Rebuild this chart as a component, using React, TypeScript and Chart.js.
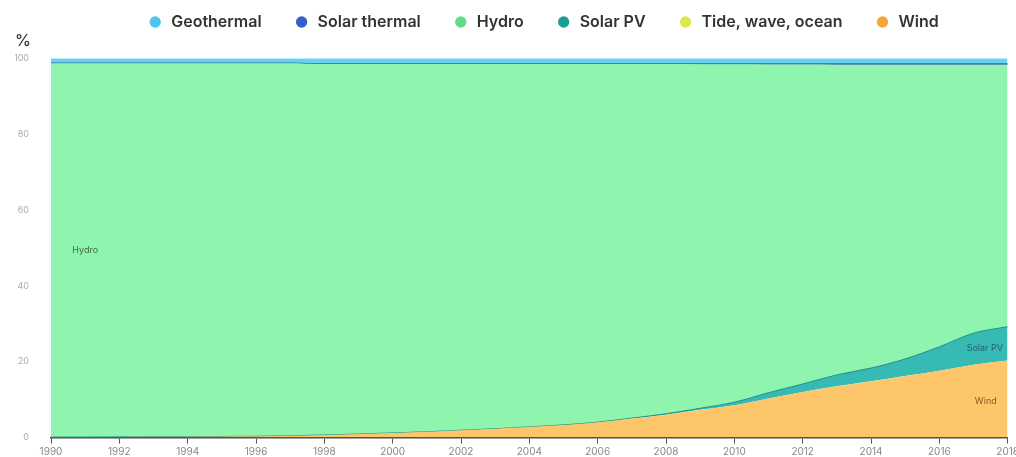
import React, { useEffect, useRef } from "react";
import { Chart, registerables } from "chart.js";

Chart.register(...registerables);

const years = [
  1990, 1991, 1992, 1993, 1994, 1995, 1996, 1997, 1998, 1999, 2000, 2001, 2002, 2003, 2004,
  2005, 2006, 2007, 2008, 2009, 2010, 2011, 2012, 2013, 2014, 2015, 2016, 2017, 2018,
];

const wind = [
  0.1, 0.1, 0.15, 0.2, 0.2, 0.25, 0.3, 0.45, 0.65, 0.9, 1.2, 1.5, 1.9, 2.3, 2.8,
  3.3, 4.0, 5.0, 6.0, 7.3, 8.5, 10.3, 12.0, 13.5, 14.8, 16.2, 17.6, 19.2, 20.3,
];
const tide = [
  0.03, 0.03, 0.03, 0.03, 0.03, 0.03, 0.03, 0.03, 0.03, 0.03, 0.03, 0.03, 0.03, 0.03, 0.03,
  0.03, 0.03, 0.03, 0.03, 0.03, 0.03, 0.03, 0.03, 0.03, 0.03, 0.03, 0.03, 0.03, 0.03,
];
const solarPV = [
  0.01, 0.01, 0.01, 0.01, 0.01, 0.01, 0.01, 0.01, 0.01, 0.01, 0.01, 0.01, 0.01, 0.01, 0.01,
  0.02, 0.05, 0.1, 0.25, 0.4, 0.8, 1.5, 2.1, 3.0, 3.5, 4.5, 6.3, 8.3, 8.9,
];
const hydro = [
  98.54, 98.54, 98.49, 98.44, 98.44, 98.39, 98.34, 98.19, 97.79, 97.54, 97.24, 96.94, 96.54, 96.14, 95.64,
  95.13, 94.4, 93.34, 92.17, 90.69, 89.07, 86.52, 84.19, 81.77, 79.95, 77.55, 74.35, 70.75, 69.05,
];
const solarThermal = [
  0.02, 0.02, 0.02, 0.02, 0.02, 0.02, 0.02, 0.02, 0.02, 0.02, 0.02, 0.02, 0.02, 0.02, 0.02,
  0.02, 0.02, 0.03, 0.05, 0.08, 0.1, 0.15, 0.18, 0.2, 0.22, 0.22, 0.22, 0.22, 0.22,
];
const geothermal = [
  1.3, 1.3, 1.3, 1.3, 1.3, 1.3, 1.3, 1.3, 1.5, 1.5, 1.5, 1.5, 1.5, 1.5, 1.5,
  1.5, 1.5, 1.5, 1.5, 1.5, 1.5, 1.5, 1.5, 1.5, 1.5, 1.5, 1.5, 1.5, 1.5,
];

const seriesNames = ["Wind", "Tide, wave, ocean", "Solar PV", "Hydro", "Solar thermal", "Geothermal"];
const seriesValues = [wind, tide, solarPV, hydro, solarThermal, geothermal];
const fillColors = ["#fdc66b", "#e8ec5a", "#38bab4", "#8ff5ae", "#3563c6", "#66d3f3"];
const lineColors = ["#f0a94a", "#d8dc40", "#1d8f8a", "#8ff5ae", "#2d6a8c", "#66d3f3"];
const lineWidths = [0, 0, 1, 0, 1.2, 0];
const legendColors = ["#f5a53a", "#dfe84a", "#17a090", "#62dc88", "#3460c8", "#4fc4ee"];

const areaLabels = ["Hydro", "Solar PV", "Wind"];
const areaLabelYears = [1991.0, 2017.33, 2017.36];
const areaLabelValues = [49.3, 23.6, 9.5];
const areaLabelColors = ["#3d6a45", "#23606c", "#8a5a22"];

const xTickStep = 2;
const yTickStep = 20;

const FONT = "Inter, 'Noto Sans', 'DejaVu Sans', sans-serif";

export default function App() {
  const canvasRef = useRef<HTMLCanvasElement | null>(null);

  useEffect(() => {
    if (!canvasRef.current) return;

    const areaLabelPlugin = {
      id: "areaLabels",
      afterDatasetsDraw(chart: any) {
        const { ctx, scales } = chart;
        ctx.save();
        ctx.font = `9px ${FONT}`;
        ctx.textAlign = "center";
        ctx.textBaseline = "middle";
        areaLabels.forEach((t, i) => {
          ctx.fillStyle = areaLabelColors[i];
          ctx.fillText(
            t,
            scales.x.getPixelForValue(areaLabelYears[i]),
            scales.y.getPixelForValue(areaLabelValues[i])
          );
        });
        ctx.restore();
      },
    };

    const legendShift = {
      id: "legendShift",
      afterLayout(chart: any) {
        const lg = chart.legend;
        if (lg) {
          lg.left += 25;
          lg.right += 25;
          lg.top = -26;
        }
      },
    };

    const chart = new Chart(canvasRef.current, {
      type: "line",
      data: {
        datasets: seriesNames.map((name, i) => ({
          label: name,
          data: years.map((y, j) => ({ x: y, y: seriesValues[i][j] })),
          backgroundColor: fillColors[i],
          borderColor: lineColors[i],
          borderWidth: lineWidths[i],
          fill: i === 0 ? "origin" : "-1",
          pointRadius: 0,
          pointHoverRadius: 0,
          tension: 0.25,
          cubicInterpolationMode: "monotone" as const,
        })),
      },
      options: {
        animation: false,
        responsive: true,
        maintainAspectRatio: false,
        layout: { padding: { left: 7, right: 0, top: 0, bottom: 0 } },
        plugins: {
          legend: {
            position: "top",
            reverse: true,
            maxHeight: 24,
            labels: {
              usePointStyle: true,
              pointStyle: "circle",
              boxWidth: 16,
              boxHeight: 8,
              padding: 32,
              color: "#333",
              font: { family: FONT, size: 16, weight: 600 },
              generateLabels(chart: any) {
                const items = Chart.defaults.plugins.legend.labels.generateLabels(chart);
                return items.map((it: any) => ({
                  ...it,
                  fillStyle: legendColors[it.datasetIndex],
                  strokeStyle: legendColors[it.datasetIndex],
                  lineWidth: 0,
                  pointStyle: "circle",
                }));
              },
            },
          },
          title: {
            display: true,
            text: "%",
            align: "start",
            weight: 500,
            color: "#333",
            font: { family: FONT, size: 16, weight: 500 },
            padding: { top: 0, bottom: 7 },
          } as any,
          tooltip: { enabled: false },
        },
        scales: {
          x: {
            type: "linear",
            min: years[0],
            max: years[years.length - 1],
            border: { display: true, color: "#444", width: 1.5 },
            grid: { display: true, drawOnChartArea: false, drawTicks: true, tickLength: 6, color: "#555" },
            ticks: {
              stepSize: xTickStep,
              color: "#888",
              font: { family: FONT, size: 10 },
              padding: 2,
              maxRotation: 0,
              callback: (v: any) => String(v),
            },
          },
          y: {
            stacked: true,
            min: 0,
            max: 100,
            border: { display: false },
            grid: { display: false, drawTicks: false },
            ticks: {
              stepSize: yTickStep,
              color: "#aaa",
              font: { family: FONT, size: 9 },
              padding: 22,
            },
            afterFit(scale: any) {
              scale.width = 36;
            },
          },
        },
      },
      plugins: [areaLabelPlugin, legendShift],
    } as any);

    return () => chart.destroy();
  }, []);

  return (
    <div style={{ position: "absolute", left: 0, top: 0, width: 1016, height: 457, overflow: "hidden", background: "#fff" }}>
      <div style={{ position: "absolute", left: 8, top: 8, width: 1013, height: 457 }}>
        <canvas ref={canvasRef} />
      </div>
    </div>
  );
}
